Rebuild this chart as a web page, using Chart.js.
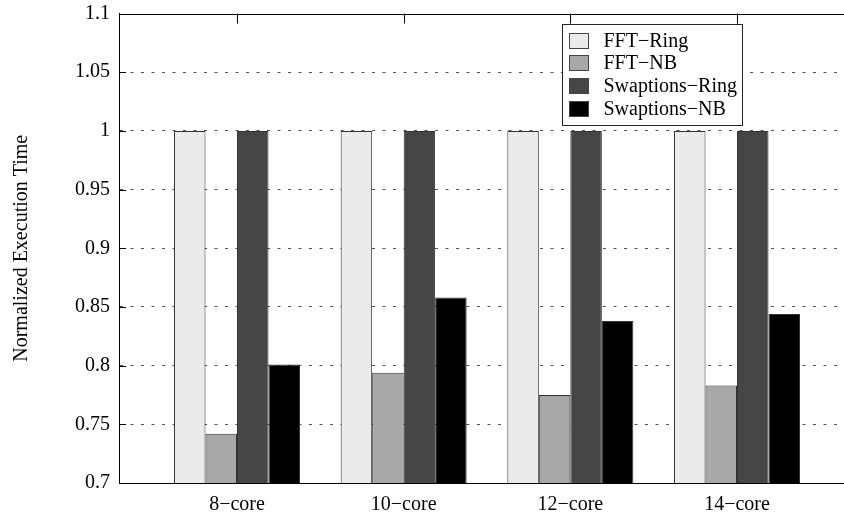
<!DOCTYPE html>
<html>
<head>
<meta charset="utf-8">
<script src="https://cdn.jsdelivr.net/npm/chart.js@4/dist/chart.umd.min.js"></script>
<style>
  html, body { margin: 0; padding: 0; background: #fff; }
  #wrap { width: 844px; height: 520px; overflow: hidden; position: relative; }
  canvas { display: block; }
</style>
</head>
<body>
<div id="wrap"><canvas id="c" width="880" height="520"></canvas></div>
<script>
// Core counts on the x axis
const categories = ['8\u2212core', '10\u2212core', '12\u2212core', '14\u2212core'];

// Normalized execution time per configuration
const fftRing       = [1.000, 1.000, 1.000, 1.000];
const fftNB         = [0.742, 0.794, 0.775, 0.783];
const swaptionsRing = [1.000, 1.000, 1.000, 1.000];
const swaptionsNB   = [0.801, 0.858, 0.838, 0.844];

const seriesNames = ['FFT\u2212Ring', 'FFT\u2212NB', 'Swaptions\u2212Ring', 'Swaptions\u2212NB'];

// Y axis range and tick step
const yMin = 0.7, yMax = 1.1, yStep = 0.05;

const FONT = 'Liberation Serif, Times New Roman, serif';

const toPoints = arr => arr.map((v, i) => ({ x: i, y: v }));

const fills = ['#ebebeb', '#a8a8a8', '#464646', '#000000'];
const seriesValues = [fftRing, fftNB, swaptionsRing, swaptionsNB];

const datasets = seriesValues.map((vals, k) => ({
  label: seriesNames[k],
  data: toPoints(vals),
  backgroundColor: fills[k],
  borderColor: '#333333',
  borderWidth: 1,
  borderSkipped: false,
  categoryPercentage: 0.756,
  barPercentage: 1.0
}));

// Frame: solid top border, inward ticks on top and left
const framePlugin = {
  id: 'frame',
  afterDatasetsDraw(chart) {
    const { ctx, chartArea: a, scales } = chart;
    ctx.save();
    ctx.strokeStyle = '#000';
    ctx.lineWidth = 1.2;
    ctx.beginPath();
    ctx.moveTo(a.left, Math.round(a.top) + 0.5);
    ctx.lineTo(a.right, Math.round(a.top) + 0.5);
    ctx.stroke();
    ctx.lineWidth = 1;
    ctx.beginPath();
    categories.forEach((_, i) => {
      const x = Math.round(scales.x.getPixelForValue(i)) + 0.5;
      ctx.moveTo(x, a.top);
      ctx.lineTo(x, a.top + 10);
    });
    scales.y.ticks.forEach(t => {
      const y = Math.round(scales.y.getPixelForValue(t.value)) + 0.5;
      ctx.moveTo(a.left, y);
      ctx.lineTo(a.left + 7, y);
    });
    ctx.stroke();
    ctx.restore();
  }
};

// Legend box drawn inside the plot, upper right
const boxLegendPlugin = {
  id: 'boxLegend',
  afterDatasetsDraw(chart) {
    const { ctx, chartArea: a } = chart;
    const bx = 562.5, by = Math.round(a.top) + 10.5, bw = 180, bh = 101;
    ctx.save();
    ctx.fillStyle = '#fff';
    ctx.fillRect(bx, by, bw, bh);
    ctx.strokeStyle = '#222';
    ctx.lineWidth = 1;
    ctx.strokeRect(bx, by, bw, bh);
    ctx.font = '20px ' + FONT;
    ctx.textBaseline = 'middle';
    ctx.textAlign = 'left';
    chart.data.datasets.forEach((ds, k) => {
      const sy = Math.round(by + 8 + k * 22.7) + 0.5;
      ctx.fillStyle = ds.backgroundColor;
      ctx.fillRect(bx + 7, sy, 19, 15);
      ctx.strokeStyle = '#444';
      ctx.strokeRect(bx + 7, sy, 19, 15);
      ctx.fillStyle = '#000';
      ctx.fillText(ds.label, bx + 41, sy + 8);
    });
    ctx.restore();
  }
};

new Chart(document.getElementById('c'), {
  type: 'bar',
  data: { datasets },
  plugins: [framePlugin, boxLegendPlugin],
  options: {
    responsive: false,
    animation: false,
    layout: { padding: { top: 13.5, right: 10, left: 0, bottom: 0 } },
    plugins: {
      legend: { display: false },
      tooltip: { enabled: false }
    },
    scales: {
      x: {
        type: 'linear',
        offset: false,
        min: -0.708,
        max: 3.798,
        afterBuildTicks(scale) {
          scale.ticks = categories.map((_, i) => ({ value: i }));
        },
        afterFit(scale) {
          scale.height = 37;
          scale.paddingLeft = 0;
          scale.paddingRight = 0;
        },
        grid: { display: false, drawTicks: false, offset: false },
        border: { display: true, color: '#000', width: 1 },
        ticks: {
          color: '#000',
          font: { family: FONT, size: 20 },
          padding: 10,
          maxRotation: 0,
          autoSkip: false,
          callback: v => categories[v] ?? ''
        }
      },
      y: {
        min: yMin,
        max: yMax,
        afterFit(scale) {
          scale.width = 119;
          scale.paddingTop = 0;
          scale.paddingBottom = 0;
        },
        grid: {
          drawTicks: false,
          color: c => (c.tick && (Math.abs(c.tick.value - yMin) < 1e-6 || Math.abs(c.tick.value - yMax) < 1e-6)) ? 'rgba(0,0,0,0)' : '#555',
          lineWidth: 1
        },
        border: { display: true, color: '#000', width: 1, dash: [3, 7.5] },
        ticks: {
          stepSize: yStep,
          color: '#000',
          font: { family: FONT, size: 20 },
          padding: 9,
          callback: v => String(Number(v.toFixed(2)))
        },
        title: {
          display: true,
          text: 'Normalized Execution Time',
          color: '#000',
          font: { family: FONT, size: 20 },
          padding: { top: 10, bottom: 0 }
        }
      }
    }
  }
});
</script>
</body>
</html>
